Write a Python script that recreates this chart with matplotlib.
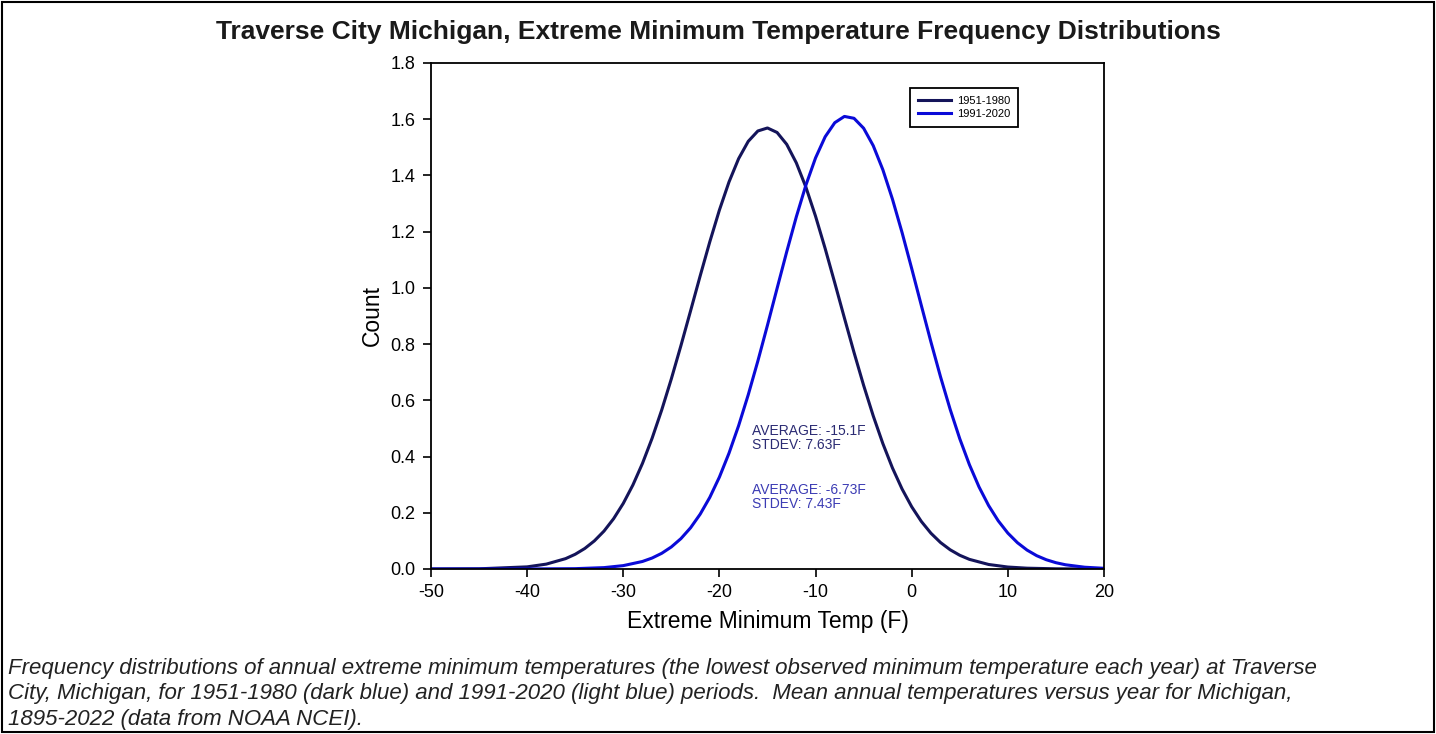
import matplotlib.pyplot as plt
from matplotlib.patches import Rectangle

plt.rcParams['font.family'] = ['Liberation Sans', 'DejaVu Sans']
plt.rcParams['axes.unicode_minus'] = False

# 1951-1980 curve
temp_early = [-50, -45, -40, -38, -36, -35, -34, -33, -32, -31, -30, -29, -28, -27,
              -26, -25, -24, -23, -22, -21, -20, -19, -18, -17, -16, -15, -14, -13,
              -12, -11, -10, -9, -8, -7, -6, -5, -4, -3, -2, -1, 0, 1, 2, 3, 4, 5,
              6, 8, 10, 12, 15, 20]
count_early = [0.0001, 0.0007, 0.0076, 0.0174, 0.0368, 0.0523, 0.0730, 0.1001,
               0.1349, 0.1790, 0.2332, 0.2985, 0.3757, 0.4649, 0.5655, 0.6761,
               0.7947, 0.9180, 1.0425, 1.1636, 1.2767, 1.3768, 1.4597, 1.5212,
               1.5581, 1.5688, 1.5528, 1.5107, 1.4447, 1.3580, 1.2549, 1.1399,
               1.0177, 0.8931, 0.7705, 0.6533, 0.5446, 0.4462, 0.3593, 0.2845,
               0.2214, 0.1693, 0.1273, 0.0941, 0.0684, 0.0488, 0.0343, 0.0161,
               0.0070, 0.0029, 0.0007, 0.0000]

# 1991-2020 curve
temp_late = [-50, -45, -40, -35, -32, -30, -28, -27, -26, -25, -24, -23, -22, -21,
             -20, -19, -18, -17, -16, -15, -14, -13, -12, -11, -10, -9, -8, -7,
             -6, -5, -4, -3, -2, -1, 0, 1, 2, 3, 4, 5, 6, 7, 8, 9, 10, 11, 12, 13,
             14, 15, 16, 18, 20]
count_late = [0.0000, 0.0000, 0.0001, 0.0012, 0.0049, 0.0120, 0.0268, 0.0390,
              0.0558, 0.0784, 0.1081, 0.1465, 0.1950, 0.2547, 0.3269, 0.4120,
              0.5099, 0.6197, 0.7398, 0.8672, 0.9982, 1.1283, 1.2527, 1.3658,
              1.4623, 1.5375, 1.5876, 1.6099, 1.6032, 1.5679, 1.5058, 1.4203,
              1.3155, 1.1966, 1.0689, 0.9377, 0.8077, 0.6834, 0.5679, 0.4633,
              0.3713, 0.2921, 0.2257, 0.1714, 0.1277, 0.0935, 0.0672, 0.0474,
              0.0329, 0.0224, 0.0150, 0.0063, 0.0025]

series_labels = ['1951-1980', '1991-2020']
stats_early = 'AVERAGE: -15.1F\nSTDEV: 7.63F'
stats_late = 'AVERAGE: -6.73F\nSTDEV: 7.43F'

dark_blue = '#14145a'
light_blue = '#0a0ad8'

fig = plt.figure(figsize=(14.36, 7.34), dpi=100)
ax = fig.add_axes([0.3001, 0.2248, 0.4687, 0.6894])

ax.plot(temp_early, count_early, color=dark_blue, lw=2.2, label=series_labels[0])
ax.plot(temp_late, count_late, color=light_blue, lw=2.2, label=series_labels[1])

ax.set_xlim(-50, 20)
ax.set_ylim(0, 1.8)
ax.set_xticks(range(-50, 21, 10))
ax.set_yticks([i * 0.2 for i in range(10)])
ax.set_yticklabels([f'{i * 0.2:.1f}' for i in range(10)])
ax.tick_params(direction='out', length=6, width=1.2, labelsize=13, pad=5)
for sp in ax.spines.values():
    sp.set_linewidth(1.3)

ax.set_xlabel('Extreme Minimum Temp (F)', fontsize=16.5, labelpad=6)
ax.set_ylabel('Count', fontsize=16.5, labelpad=5)

ax.text(-16.6, 0.465, stats_early, fontsize=10, color='#2b2b73',
        va='center', ha='left', linespacing=1.0)
ax.text(-16.6, 0.255, stats_late, fontsize=10, color='#3c3cb4',
        va='center', ha='left', linespacing=1.0)

leg = ax.legend(loc='upper left', bbox_to_anchor=(0.712, 0.951), borderaxespad=0,
                fontsize=8, frameon=True, fancybox=False, edgecolor='black',
                framealpha=1, handlelength=3.0, borderpad=0.7, labelspacing=0.3,
                handletextpad=0.5)
leg.get_frame().set_linewidth(1.3)

fig.text(0.5, 0.957, 'Traverse City Michigan, Extreme Minimum Temperature Frequency Distributions',
         ha='center', va='center', fontsize=19, fontweight='bold', color='#1a1a1a')

caption = ('Frequency distributions of annual extreme minimum temperatures (the lowest observed minimum temperature each year) at Traverse\n'
           'City, Michigan, for 1951-1980 (dark blue) and 1991-2020 (light blue) periods.  Mean annual temperatures versus year for Michigan,\n'
           '1895-2022 (data from NOAA NCEI).')
fig.text(0.0056, 0.0545, caption, ha='left', va='center', fontsize=16,
         style='italic', linespacing=1.28, color='#222222')

fig.patches.append(Rectangle((0.0014, 0.003), 0.9972, 0.994, transform=fig.transFigure,
                             fill=False, edgecolor='black', lw=1.5))

fig.savefig('out.png', dpi=100)
